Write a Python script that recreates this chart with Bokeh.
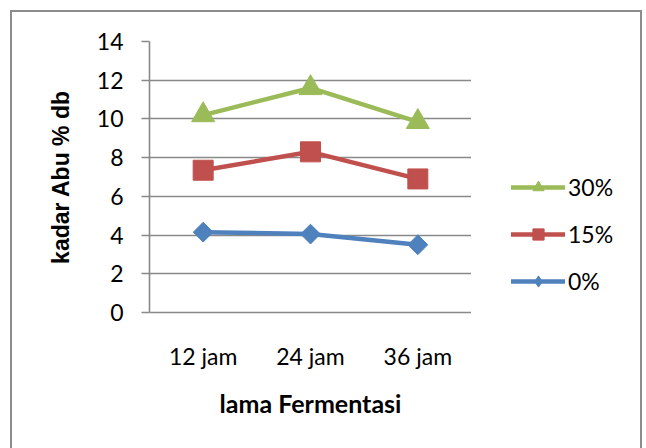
from bokeh.plotting import figure
from bokeh.layouts import row
from bokeh.models import Range1d, FactorRange, FixedTicker, Legend, LegendItem
from bokeh.embed import file_html
from bokeh.resources import INLINE
import math

categories = ["12 jam", "24 jam", "36 jam"]
series_names = ["30%", "15%", "0%"]
values_30 = [10.2, 11.6, 9.85]
values_15 = [7.35, 8.3, 6.9]
values_0 = [4.15, 4.05, 3.5]
y_ticks = [0, 2, 4, 6, 8, 10, 12, 14]

GREEN = "#9BBB59"
RED = "#C0504D"
BLUE = "#4F81BD"
GRID = "#898989"

p = figure(width=459, height=440,
           x_range=FactorRange(*categories, range_padding=0),
           y_range=Range1d(0, 14),
           output_backend="svg", toolbar_location=None,
           min_border_left=137, min_border_right=0,
           min_border_top=29, min_border_bottom=140)
p.outline_line_color = None
p.background_fill_color = "white"
p.border_fill_color = "white"

# grid
p.xgrid.grid_line_color = None
p.ygrid.ticker = FixedTicker(ticks=y_ticks)
p.ygrid.grid_line_color = GRID
p.ygrid.grid_line_width = 1.6

# y axis
p.yaxis.ticker = FixedTicker(ticks=y_ticks)
p.yaxis.axis_line_color = GRID
p.yaxis.axis_line_width = 1.6
p.yaxis.major_tick_line_color = GRID
p.yaxis.major_tick_line_width = 1.6
p.yaxis.major_tick_out = 8
p.yaxis.major_tick_in = 0
p.yaxis.minor_tick_line_color = None
p.yaxis.major_label_standoff = 18
p.yaxis.major_label_text_font = "Lato"
p.yaxis.major_label_text_font_size = "23px"
p.yaxis.major_label_text_color = "black"
p.yaxis.axis_label = "kadar Abu % db"
p.yaxis.axis_label_text_font = "Liberation Sans"
p.yaxis.axis_label_text_font_style = "bold"
p.yaxis.axis_label_text_font_size = "23px"
p.yaxis.axis_label_text_color = "black"
p.yaxis.axis_label_standoff = 20

# x axis
p.xaxis.axis_line_color = GRID
p.xaxis.axis_line_width = 1.6
p.xaxis.major_tick_line_color = None
p.xaxis.minor_tick_line_color = None
p.xaxis.major_label_standoff = 23
p.xaxis.major_label_text_font = "Lato"
p.xaxis.major_label_text_font_size = "23px"
p.xaxis.major_label_text_color = "black"
p.xaxis.axis_label = "lama Fermentasi"
p.xaxis.axis_label_text_font = "Lato"
p.xaxis.axis_label_text_font_style = "bold"
p.xaxis.axis_label_text_font_size = "25px"
p.xaxis.axis_label_text_color = "black"
p.xaxis.axis_label_standoff = 15

# series
p.line(categories, values_0, line_color=BLUE, line_width=4.5)
p.scatter(categories, values_0, marker="square", angle=math.pi / 4, size=14,
          fill_color=BLUE, line_color=BLUE)
p.line(categories, values_15, line_color=RED, line_width=4.5)
p.scatter(categories, values_15, marker="square", size=20,
          fill_color=RED, line_color=RED)
p.line(categories, values_30, line_color=GREEN, line_width=4.5)
p.scatter(categories, values_30, marker="triangle", size=23,
          fill_color=GREEN, line_color=GREEN)

# legend panel (right part of the chart box)
pl = figure(width=169, height=440, x_range=Range1d(0, 1), y_range=Range1d(0, 1),
            x_axis_type=None, y_axis_type=None,
            output_backend="svg", toolbar_location=None,
            min_border_left=23, min_border_right=0,
            min_border_top=29, min_border_bottom=140)
pl.outline_line_color = None
pl.grid.visible = False
pl.background_fill_color = "white"
pl.border_fill_color = "white"

def legend_renderers(color, marker, size, angle=0.0):
    # key glyphs only: their points lie outside the visible range
    ln = pl.line([5, 6], [5, 5], line_color=color, line_width=4.5, line_cap="round")
    sc = pl.scatter([5], [5], marker=marker, size=size, angle=angle,
                    fill_color=color, line_color=color)
    return [ln, sc]

items = [
    LegendItem(label=series_names[0], renderers=legend_renderers(GREEN, "triangle", 15)),
    LegendItem(label=series_names[1], renderers=legend_renderers(RED, "square", 13)),
    LegendItem(label=series_names[2], renderers=legend_renderers(BLUE, "diamond", 20)),
]
legend = Legend(items=items, location="bottom_left",
                glyph_width=54, glyph_height=28, label_height=28,
                label_standoff=3, spacing=19, padding=0, margin=17,
                border_line_color=None, background_fill_alpha=0,
                label_text_font="Lato", label_text_font_size="23px",
                label_text_color="black")
pl.add_layout(legend, "center")

layout = row(p, pl, spacing=0)
layout.styles = {"border": "2px solid #8c8c8c", "margin": "10px 0 0 10px"}

open("out.html", "w").write(file_html(layout, INLINE))
